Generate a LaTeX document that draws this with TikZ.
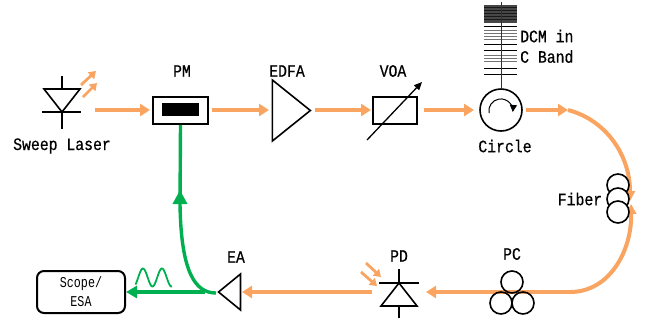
\documentclass[tikz,border=0pt]{standalone}
\usepackage{fontspec}
\setmainfont[FakeStretch=0.85,FakeBold=0.5]{Liberation Mono}
\newfontfamily\scopefont[FakeStretch=0.78]{Liberation Mono}
\usetikzlibrary{positioning, arrows.meta, shapes.geometric}
\definecolor{pumporange}{RGB}{249,164,96}
\definecolor{rfgreen}{RGB}{0,176,80}
\tikzset{
	device/.style={draw,line width=1.6pt,inner sep=0pt},
	ampshape/.style={device,isosceles triangle,isosceles triangle stretches,inner sep=0pt},
	coil/.style={device,circle,minimum size=22,line width=1.6pt},
	tag/.style={font=\fontsize{17.4}{18}\selectfont,inner sep=0pt},
	optical/.style={draw=pumporange,line width=3.2pt,-{Triangle[length=10,width=12]}},
	opticalbend/.style={draw=pumporange,line width=4pt},
	lightray/.style={draw=pumporange,line width=2.8pt,-{Triangle[length=7,width=9]}},
	rf/.style={draw=rfgreen,line width=3.4pt},
	diode/.style={line width=1.6pt},
	grating/.style={line width=0.9pt}
}
\begin{document}
\begin{tikzpicture}[x=1pt,y=-1pt]
	\useasboundingbox (0,0) rectangle (648,325);

	% optical path
	\coordinate (laserout) at (95,110);
	\draw[optical] (laserout) -- (150,110);
	\draw[optical] (212,110) -- (269,110);
	\draw[optical] (315,110) -- (371,110);
	\draw[optical] (424,110) -- (474,110);
	\draw[optical] (526,110) -- (568,110);
	\coordinate (bendtop) at (568,110);
	\coordinate (fiberjoin) at (630,201);
	\coordinate (fiberback) at (631,204);
	\coordinate (bendbot) at (570,292);
	\draw[opticalbend,-{Triangle[length=10,width=10]}] (bendtop) .. controls (606,120) and (630,155) .. (fiberjoin);
	\draw[opticalbend,{Triangle[length=10,width=10]}-] (fiberback) .. controls (632,250) and (610,292) .. (bendbot);
	\draw[optical] (bendbot) -- (426,292);
	\draw[optical] (372,292) -- (242,292);

	% laser
	\coordinate (lasertop) at (62,76);
	\coordinate (laserbot) at (62,129);
	\coordinate (laserL) at (44,89);
	\coordinate (laserR) at (80,89);
	\coordinate (laserK) at (62,112);
	\draw[diode] (lasertop) -- (62,89);
	\draw[diode] (laserK) -- (laserbot);
	\draw[diode] (laserL) -- (laserR) -- (laserK) -- cycle;
	\draw[diode] (42,112) -- (81,112);
	\draw[lightray] (81,85) -- (96,71);
	\draw[lightray] (83,97) -- (97,83);
	\node[tag] (laserlabel) at (62,146) {Sweep Laser};

	% modulator
	\node[device,minimum width=55,minimum height=27] (pm) at (180.5,110.5) {};
	\node[fill=black,minimum width=37,minimum height=13,inner sep=0pt] (pmcore) at (180.5,109.5) {};
	\node[tag] (pmlabel) at (182,71) {PM};

	% amplifier, attenuator
	\node[ampshape,minimum width=61,minimum height=38] (edfa) at (287,110.5) {};
	\node[tag] (edfalabel) at (287,71) {EDFA};
	\node[device,minimum width=44,minimum height=27] (voa) at (395,110.5) {};
	\coordinate (voastart) at (367,140);
	\coordinate (voaend) at (422,82);
	\draw[line width=1.3pt,-{Triangle[length=8,width=7]}] (voastart) -- (voaend);
	\node[tag] (voalabel) at (393,71) {VOA};

	% circulator with grating
	\node[device,circle,minimum size=42] (circ) at (501,110) {};
	\draw[line width=1pt,-{Triangle[length=7,width=7]}] (489,113) arc[start angle=170,end angle=365,radius=12];
	\node[tag] (circlabel) at (505,146) {Circle};
	\coordinate (dcmtop) at (501,2);
	\fill[black!72] (484,5) rectangle (517,23);
	\foreach \y in {7,10,13,16,19} {
		\draw[line width=0.7pt,black!90] (484,\y) -- (517,\y);
	}
	\foreach \y in {30,33,36,39,55,58,61} {
		\draw[grating,black!55] (484,\y) -- (517,\y);
	}
	\foreach \y in {26,44,50,68,74} {
		\draw[grating] (484,\y) -- (517,\y);
	}
	\draw[line width=0.9pt,black!80] (dcmtop) -- (circ.north);
	\node[tag,anchor=west] (dcmlabel1) at (520,36) {DCM in};
	\node[tag,anchor=west] (dcmlabel2) at (520,56.5) {C Band};

	% fibre spool
	\node[coil,fill=white] (fib1) at (618,185) {};
	\node[coil,fill=white] (fib2) at (618,199) {};
	\node[coil,fill=white] (fib3) at (618,212) {};
	\node[tag] (fiberlabel) at (580,199) {Fiber};

	% polarisation controller
	\node[coil] (pc1) at (512,282) {};
	\node[coil] (pc2) at (501,303) {};
	\node[coil] (pc3) at (523,303) {};
	\node[tag] (pclabel) at (512,254) {PC};

	% photodiode
	\coordinate (pdtop) at (399,269);
	\coordinate (pdbot) at (399,318);
	\coordinate (pdK) at (399,283);
	\coordinate (pdL) at (381,306);
	\coordinate (pdR) at (417,306);
	\draw[diode] (pdtop) -- (pdK);
	\draw[diode] (399,306) -- (pdbot);
	\draw[diode] (pdK) -- (pdL) -- (pdR) -- cycle;
	\draw[diode] (379,283) -- (419,283);
	\draw[lightray] (366,263) -- (381,277);
	\draw[lightray] (361,272) -- (377,286);
	\node[tag] (pdlabel) at (399,256) {PD};

	% receiver side
	\node[ampshape,minimum width=36,minimum height=22,shape border rotate=180] (ea) at (232,292) {};
	\node[tag] (ealabel) at (236,257) {EA};
	\node[device,rounded corners=7,minimum width=88,minimum height=42,line width=2pt,align=center,font=\scopefont\fontsize{15}{19}\selectfont] (scope) at (81,292) {Scope/\\ESA};

	% electrical path
	\coordinate (rfsplit) at (216,293);
	\draw[rf,-{Triangle[length=14,width=14]}] (rfsplit) .. controls (195,293) and (181,272) .. (180,204) -- (180,190);
	\draw[rf] (180,204) -- (pm.south);
	\draw[rf,-{Triangle[length=11,width=12]}] (205,292) -- (scope.east);
	\draw[rfgreen,line width=1.8pt,smooth,samples=60,domain=135.5:172] plot (\x,{277.5-9*sin((\x-138.2)*360/19)});
\end{tikzpicture}
\end{document}
